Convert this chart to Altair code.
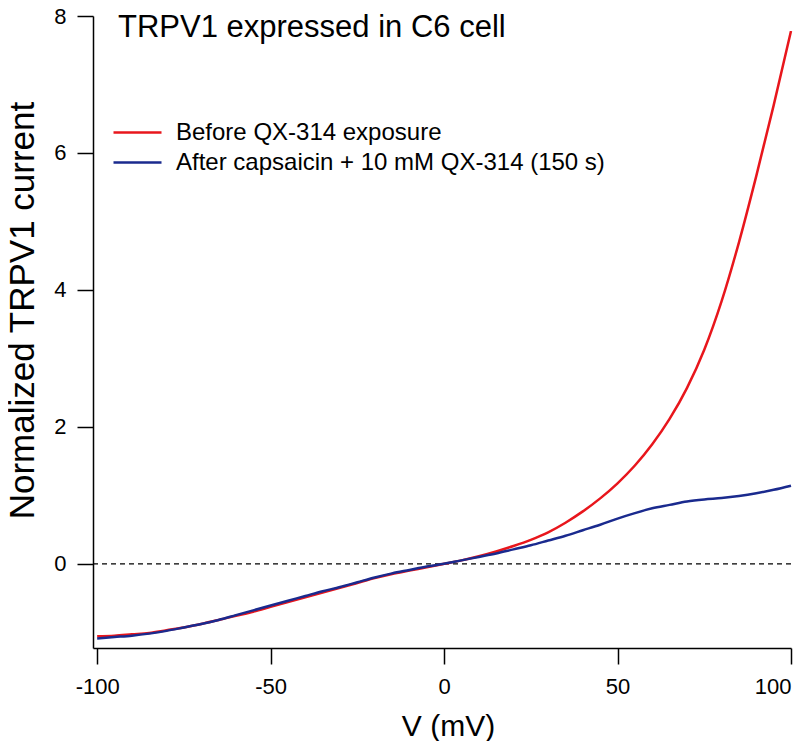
import altair as alt
import pandas as pd

V = [-100, -95, -90, -85, -80, -75, -70, -65, -60, -55, -50, -45, -40, -35, -30,
     -25, -20, -15, -10, -5, 0, 5, 10, 15, 20, 25, 30, 35, 40, 45, 50, 55, 60,
     65, 70, 75, 80, 85, 90, 95, 100]

before = [-1.06, -1.05, -1.03, -1.01, -0.97, -0.93, -0.88, -0.82, -0.76, -0.70,
          -0.63, -0.56, -0.49, -0.42, -0.35, -0.28, -0.21, -0.15, -0.10, -0.05,
          0.00, 0.05, 0.11, 0.18, 0.26, 0.35, 0.46, 0.60, 0.765, 0.955, 1.175,
          1.435, 1.745, 2.115, 2.565, 3.125, 3.835, 4.695, 5.665, 6.695, 7.78]

after = [-1.09, -1.07, -1.05, -1.02, -0.98, -0.93, -0.88, -0.82, -0.75, -0.68,
         -0.61, -0.54, -0.47, -0.40, -0.34, -0.27, -0.20, -0.14, -0.09, -0.04,
         0.00, 0.05, 0.10, 0.15, 0.21, 0.27, 0.34, 0.41, 0.49, 0.57, 0.66, 0.74,
         0.81, 0.86, 0.91, 0.94, 0.96, 0.99, 1.03, 1.08, 1.14]

series_names = ["Before QX-314 exposure", "After capsaicin + 10 mM QX-314 (150 s)"]
series_colors = ["#e8161c", "#1a2a8e"]
x_ticks = [-100, -50, 0, 50, 100]
y_ticks = [0, 2, 4, 6, 8]
title_text = "TRPV1 expressed in C6 cell"

rows = []
for v, b in zip(V, before):
    rows.append({"V": v, "I": b, "series": series_names[0]})
for v, a in zip(V, after):
    rows.append({"V": v, "I": a, "series": series_names[1]})
df = pd.DataFrame(rows)

FONT = "Liberation Sans"

xscale = alt.Scale(domain=[-101.2, 100], nice=False, zero=False)
yscale = alt.Scale(domain=[-1.23, 8], nice=False, zero=False)

lines = alt.Chart(df).mark_line(strokeWidth=2.5, interpolate="monotone").encode(
    x=alt.X("V:Q", scale=xscale,
            axis=alt.Axis(values=x_ticks, title="V (mV)", titleX=355, titleY=87,
                          titleBaseline="alphabetic", titleFontSize=30,
                          labelExpr="'' + datum.value", labelPadding=12)),
    y=alt.Y("I:Q", scale=yscale,
            axis=alt.Axis(values=y_ticks, title="Normalized TRPV1 current",
                          titleX=-60, titleY=294, titleBaseline="alphabetic",
                          titleFontSize=35, labelExpr="'' + datum.value",
                          labelPadding=11)),
    color=alt.Color("series:N",
                    scale=alt.Scale(domain=series_names, range=series_colors),
                    sort=series_names,
                    legend=alt.Legend(title=None, orient="none", legendX=31, legendY=103,
                                      symbolType="M-2,0H2", symbolSize=576,
                                      symbolStrokeWidth=2.5, labelFontSize=24,
                                      labelFont=FONT, labelColor="black",
                                      labelLimit=0, labelOffset=25, rowPadding=4)),
    order="V:Q",
)

zero = alt.Chart(pd.DataFrame({"y": [0]})).mark_rule(
    color="black", strokeWidth=1.2, strokeDash=[5, 4]
).encode(y="y:Q")

title = alt.Chart(pd.DataFrame({"t": [title_text]})).mark_text(
    align="left", baseline="alphabetic", fontSize=31, font=FONT, color="black"
).encode(x=alt.value(25), y=alt.value(21), text="t:N")

chart = alt.layer(zero, lines, title).properties(
    width=698, height=632,
    autosize=alt.AutoSizeParams(type="none"),
    padding={"left": 85, "top": 8, "right": 13, "bottom": 93},
).configure_view(stroke=None).configure_axis(
    grid=False, domainColor="black", domainWidth=1.5, tickColor="black",
    tickWidth=1.5, tickSize=16, labelFontSize=22, labelFont=FONT,
    labelColor="black", titleFont=FONT, titleColor="black",
    titleFontWeight="normal",
)

chart.save("out.html", embed_options={"renderer": "svg", "actions": False})
